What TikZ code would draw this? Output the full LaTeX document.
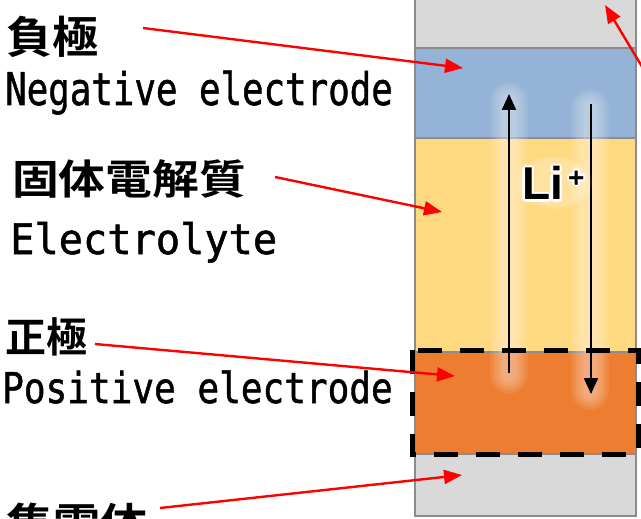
\documentclass[tikz,border=0pt]{standalone}
\usepackage{fontspec}
\setmainfont{Liberation Sans}
\newfontfamily\jpfont{Noto Sans CJK JP Bold}
\newfontfamily\lmono[FakeBold=1.2]{DejaVu Sans Mono}
\newfontfamily\lifont{Liberation Sans Bold}
\usetikzlibrary{arrows.meta,fadings}
\definecolor{cgray}{HTML}{D9D9D9}
\definecolor{cborder}{HTML}{8C8C8C}
\definecolor{cblue}{HTML}{95B3D7}
\definecolor{cyel}{HTML}{FFD980}
\definecolor{corange}{HTML}{ED7D31}
\definecolor{cred}{HTML}{FF0000}
\tikzset{
  layer/.style={draw=cborder, line width=2pt},
  redarrow/.style={draw=cred, line width=2.4pt, -{Triangle[length=18pt,width=14pt]}},
  blkarrow/.style={draw=black, line width=2pt, -{Triangle[length=16pt,width=14pt]}},
  jplabel/.style={anchor=base west, inner sep=0pt, font=\jpfont},
  enlabel/.style={anchor=base west, inner sep=0pt, font=\lmono},
  glowstep/.style={fill=white, opacity=0.075},
}
\begin{document}
\begin{tikzpicture}[x=1pt,y=-1pt]
\useasboundingbox (0,0) rectangle (641,519);
\clip (0,0) rectangle (641,519);
\fill[white] (0,0) rectangle (641,519);
% layers
\path[layer, fill=cgray] (415,-20) rectangle (636,48);
\path[layer, fill=cblue] (415,48) rectangle (636,138);
\path[layer, fill=cyel] (415,138) rectangle (636,352);
\path[layer, fill=corange] (415,352) rectangle (636,454);
\path[layer, fill=cgray] (415,454) rectangle (636,516);
% glow columns (soft, built from nested stadiums)
\foreach \w in {19,16.5,14,11.5,9,6.5}{
  \pgfmathsetmacro{\d}{19-\w}
  \fill[glowstep, rounded corners=\w pt] (509-\w,82+\d) rectangle (509+\w,394-\d);
  \fill[glowstep, rounded corners=\w pt] (590-\w,89+\d) rectangle (590+\w,410-\d);
}
% black arrows
\coordinate (upA) at (509,373);
\coordinate (upB) at (509,94);
\coordinate (dnA) at (591,104);
\coordinate (dnB) at (591,394);
\draw[blkarrow] (upA) -- (upB);
\draw[blkarrow] (dnA) -- (dnB);
% Li+ text with halo
\fill[white, opacity=0.25, path fading=circle with fuzzy edge 20 percent] (553,182) ellipse (40 and 28);
\foreach \a in {0,45,...,315}{
  \node[anchor=base west, inner sep=0pt, text=white, font=\lifont\fontsize{46}{50}\selectfont] (haloL\a) at ([shift={(\a:2.6)}]522,200) {Li};
  \node[anchor=base west, inner sep=0pt, text=white, font=\lifont\fontsize{28}{30}\selectfont] (haloP\a) at ([shift={(\a:2.2)}]568,187) {+};
}
\node[anchor=base west, inner sep=0pt, font=\lifont\fontsize{46}{50}\selectfont] (li) at (522,200) {Li};
\node[anchor=base west, inner sep=0pt, font=\lifont\fontsize{28}{30}\selectfont] (plus) at (568,187) {+};
% dashed positive electrode frame
\draw[line width=5pt, dash pattern=on 24pt off 18pt, miter limit=10] (412,350) rectangle (638,454);
% labels
\node[jplabel, font=\jpfont\fontsize{44}{48}\selectfont] (neg) at (6,54) {\scalebox{1.05}[1]{負極}};
\node[enlabel, font=\lmono\fontsize{45}{50}\selectfont] (negE) at (5,105) {\scalebox{0.795}[1]{Negative electrode}};
\node[jplabel, font=\jpfont\fontsize{41}{45}\selectfont] (ele) at (12,194) {\scalebox{1.14}[1]{固体電解質}};
\node[enlabel, font=\lmono\fontsize{42}{46}\selectfont] (eleE) at (10,254) {\scalebox{0.96}[1]{Electrolyte}};
\node[jplabel, font=\jpfont\fontsize{41}{45}\selectfont] (pos) at (5,352) {正極};
\node[enlabel, font=\lmono\fontsize{42.5}{46}\selectfont] (posE) at (2,403) {\scalebox{0.848}[1]{Positive electrode}};
\node[jplabel, font=\jpfont\fontsize{44}{48}\selectfont] (cur) at (6,540) {\scalebox{1.07}[1]{集電体}};
% red pointers
\coordinate (s1) at (143,28);  \coordinate (e1) at (463,68);
\coordinate (s2) at (275,177); \coordinate (e2) at (442,212);
\coordinate (s3) at (95,344);  \coordinate (e3) at (455,376);
\coordinate (s4) at (160,508); \coordinate (e4) at (462,475);
\coordinate (s5) at (668,110); \coordinate (e5) at (605,5);
\draw[redarrow] (s1) -- (e1);
\draw[redarrow] (s2) -- (e2);
\draw[redarrow] (s3) -- (e3);
\draw[redarrow] (s4) -- (e4);
\draw[redarrow] (s5) -- (e5);
\end{tikzpicture}
\end{document}
